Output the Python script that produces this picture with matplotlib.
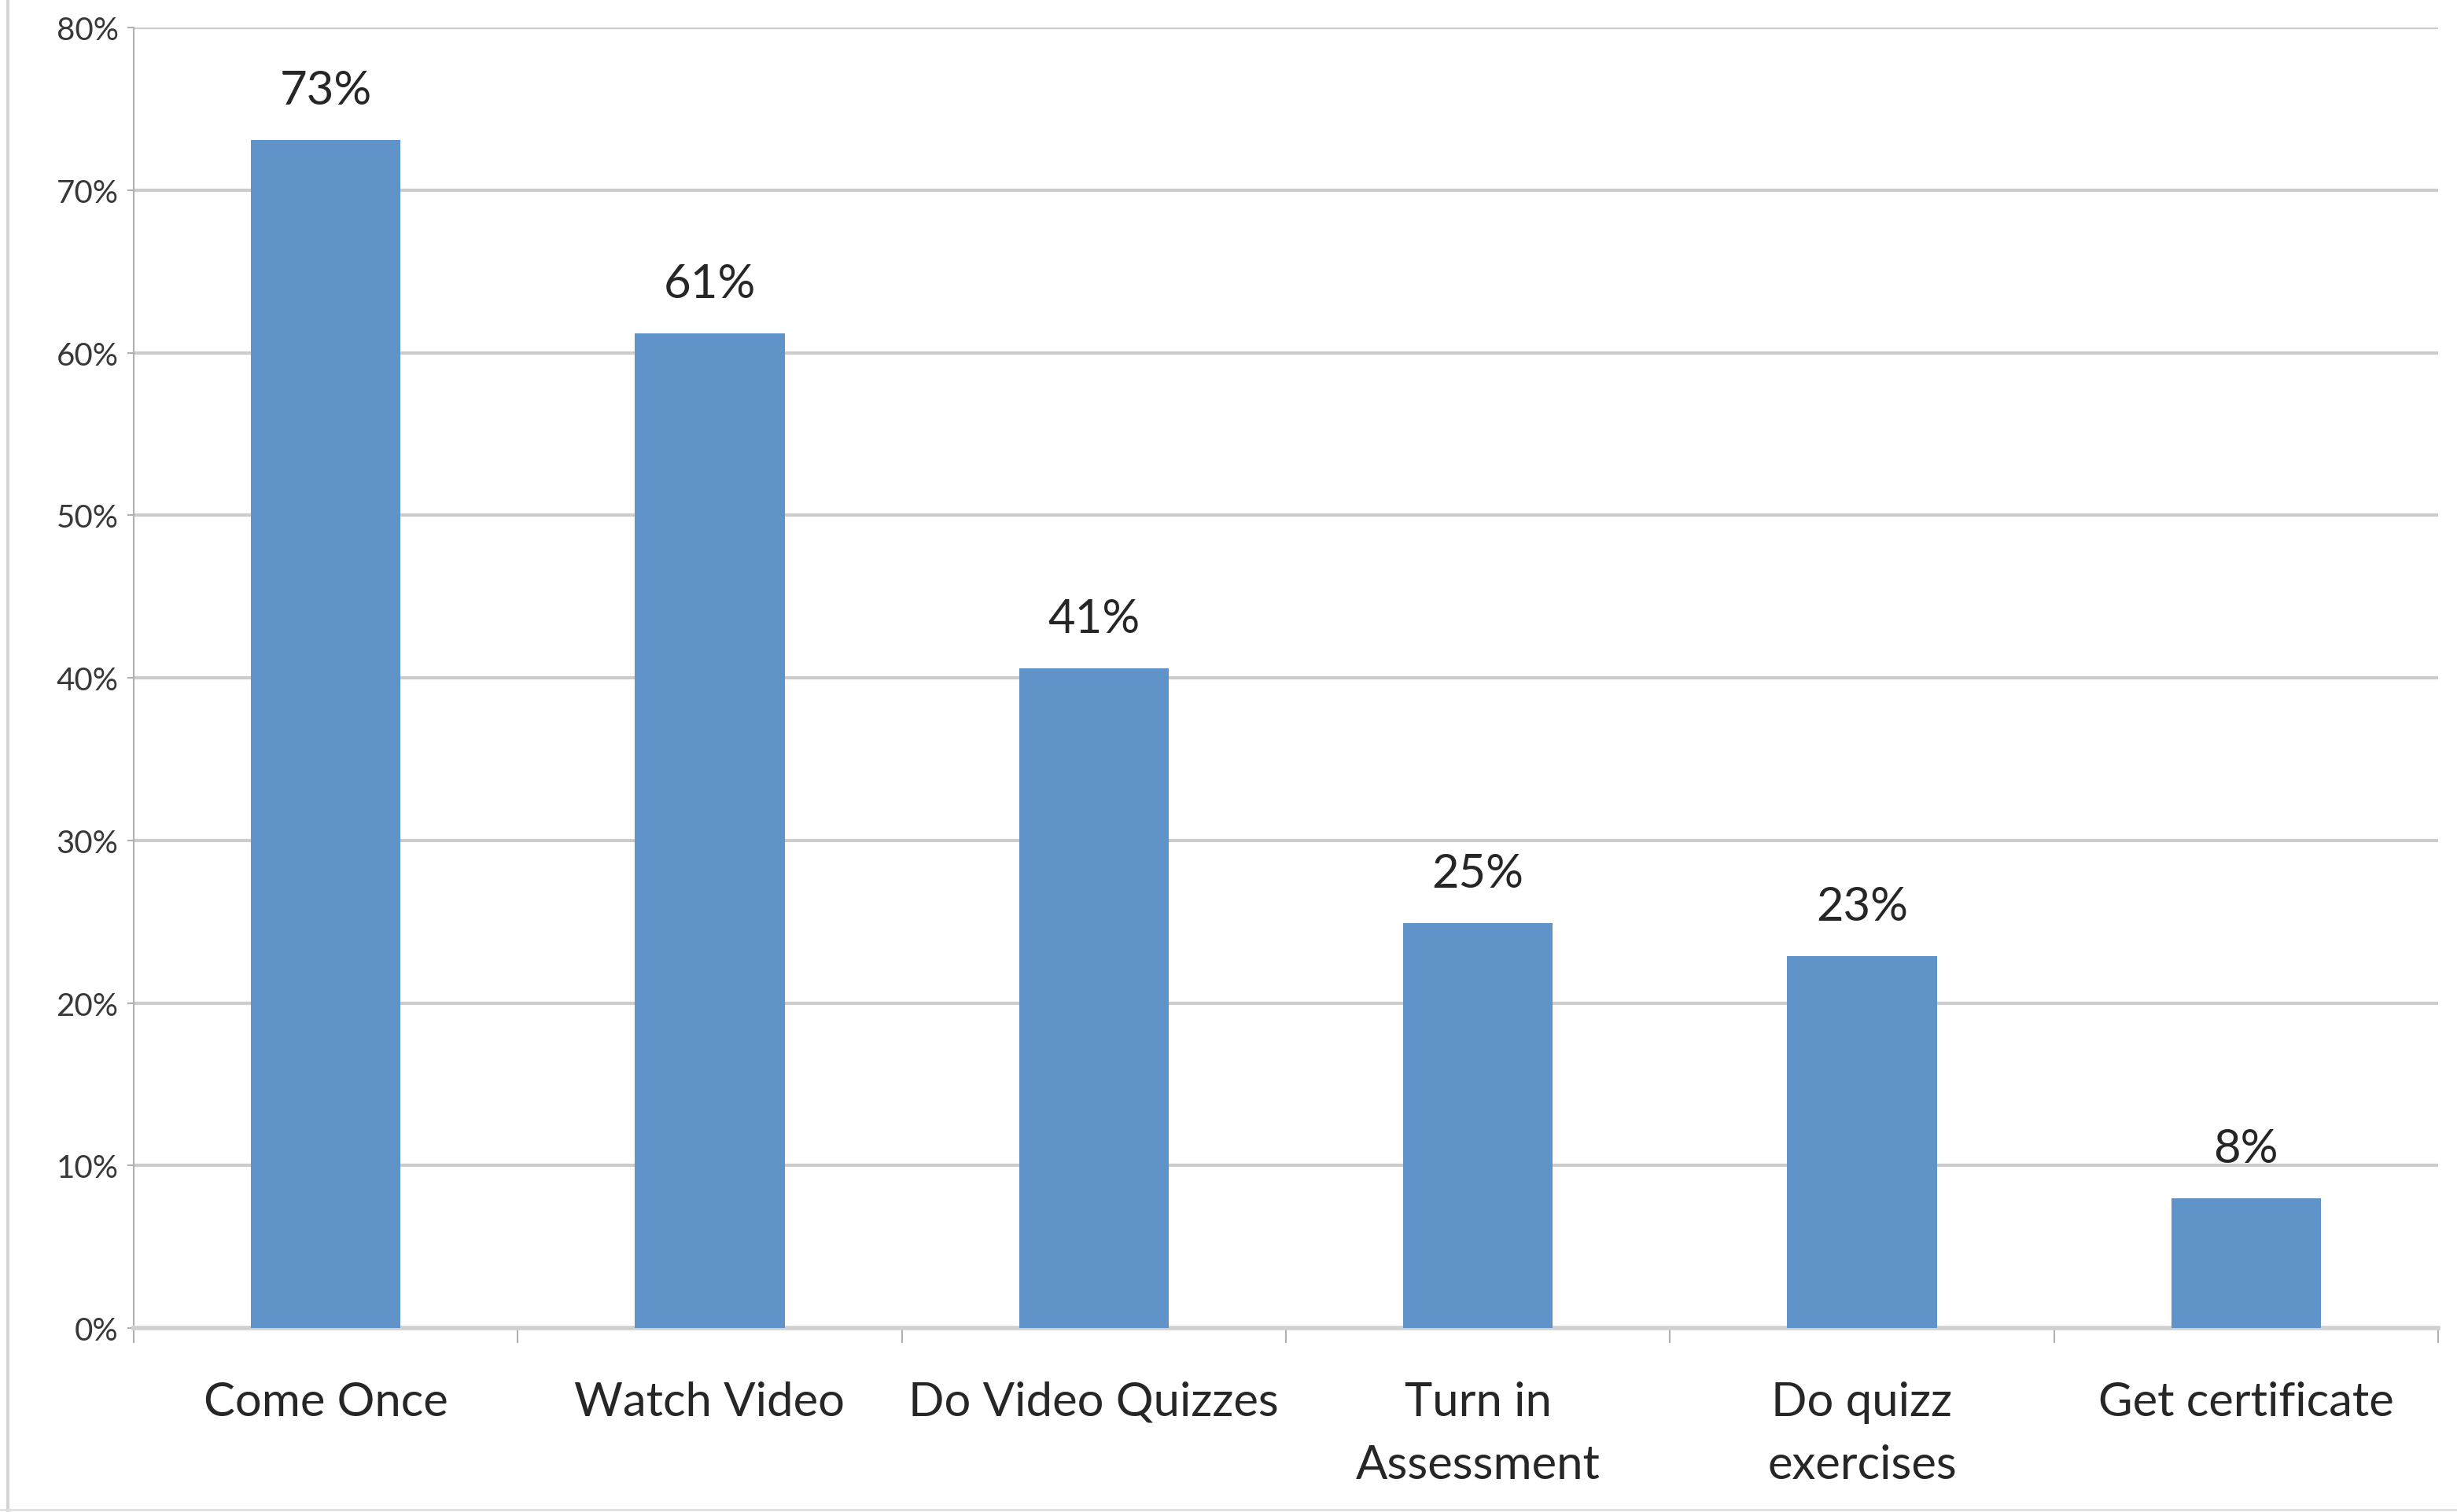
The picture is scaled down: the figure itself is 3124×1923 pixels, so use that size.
import matplotlib
matplotlib.use('Agg')
from matplotlib import pyplot as plt
from matplotlib.lines import Line2D
from matplotlib.ticker import FuncFormatter

# data
stages = ['Come Once', 'Watch Video', 'Do Video Quizzes', 'Turn in\nAssessment',
          'Do quizz\nexercises', 'Get certificate']
share = [73.1, 61.2, 40.6, 24.9, 22.9, 8.0]
yticks = [0, 10, 20, 30, 40, 50, 60, 70, 80]

plt.rcParams['font.family'] = ['Lato', 'DejaVu Sans']

fig = plt.figure(figsize=(31.24, 19.24), dpi=100)
ax = fig.add_axes([0.0544, 0.1215, 0.9379, 0.8598])

x = list(range(len(stages)))
bars = ax.bar(x, share, width=0.39, color='#6093C7', zorder=3)

for b, v in zip(bars, share):
    ax.annotate('{:.0f}%'.format(v), (b.get_x() + b.get_width() / 2, v),
                xytext=(0, 26), textcoords='offset points',
                ha='center', va='bottom', fontsize=43, color='#262626')

ax.set_xlim(-0.5, len(stages) - 0.5)
ax.set_ylim(0, 80)
ax.set_yticks(yticks)
ax.yaxis.set_major_formatter(FuncFormatter(lambda v, p: '{:.0f}%'.format(v)))
ax.tick_params(axis='y', labelsize=29, labelcolor='#383838', color='#b0b0b0',
               length=6, width=1.5, pad=8)

# category boundaries as major ticks, names on minor ticks
ax.set_xticks([i - 0.5 for i in range(len(stages) + 1)])
ax.set_xticklabels([])
ax.set_xticks(x, minor=True)
ax.set_xticklabels(stages, minor=True, fontsize=43, color='#262626', linespacing=1.6)
ax.tick_params(axis='x', which='major', length=14, width=1.5, color='#b0b0b0')
ax.tick_params(axis='x', which='minor', length=0, pad=48)

ax.grid(axis='y', color='#cccccc', linewidth=3, zorder=0)
ax.set_axisbelow(True)
for s in ['top', 'right']:
    ax.spines[s].set_visible(False)
ax.spines['left'].set_color('#b0b0b0')
ax.spines['left'].set_linewidth(1.5)
ax.spines['bottom'].set_color('#d0d0d0')
ax.spines['bottom'].set_linewidth(4)

# frame lines of the original screenshot
fig.add_artist(Line2D([0.0032, 0.0032], [0, 1], color='#d5d5d5', linewidth=3))
fig.add_artist(Line2D([0, 1], [0.0016, 0.0016], color='#e0e0e0', linewidth=2))

fig.savefig('out.png', dpi=100)
